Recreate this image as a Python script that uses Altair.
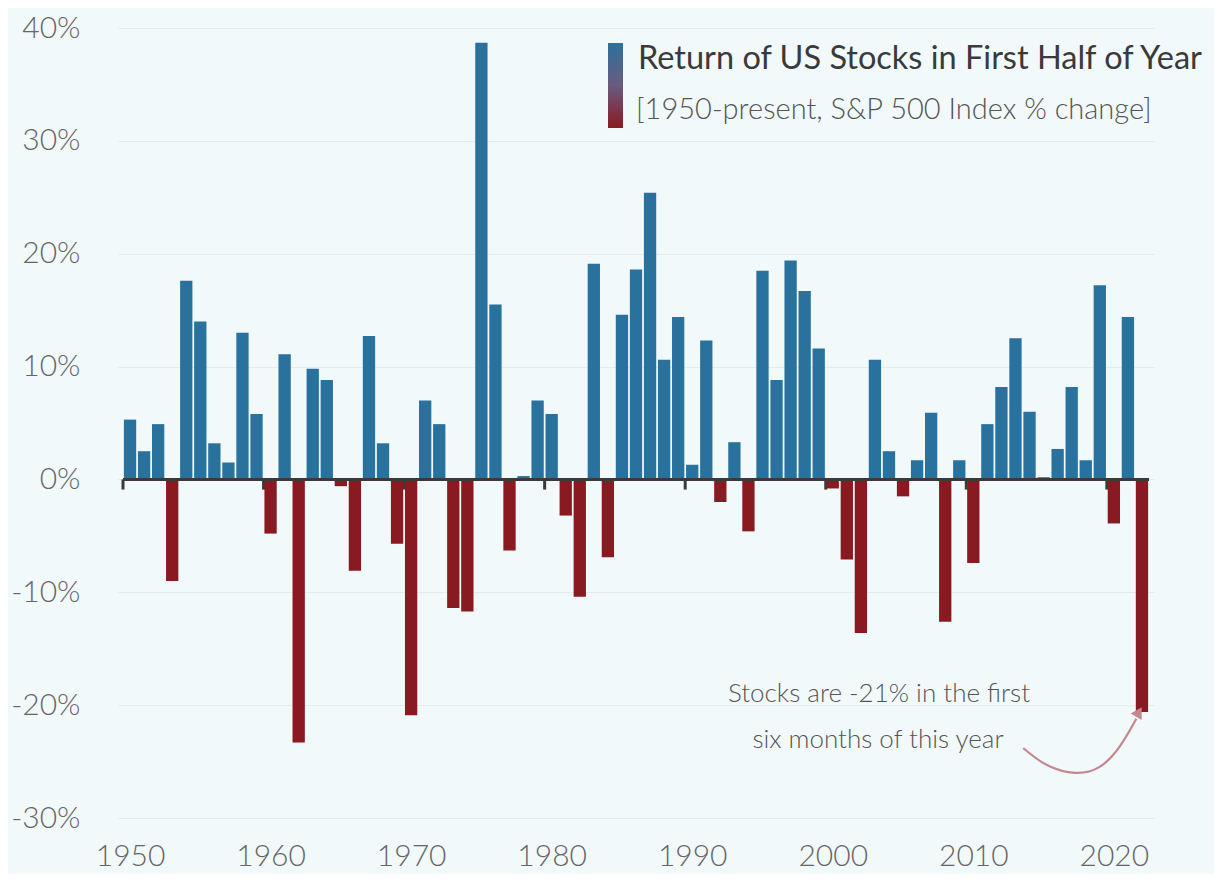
import altair as alt
import pandas as pd

years = list(range(1950, 2023))
returns = [
    5.3, 2.5, 4.9, -9.0, 17.6, 14.0, 3.2, 1.5, 13.0, 5.8,
    -4.8, 11.1, -23.3, 9.8, 8.8, -0.6, -8.1, 12.7, 3.2, -5.7,
    -20.9, 7.0, 4.9, -11.4, -11.7, 38.7, 15.5, -6.3, 0.3, 7.0,
    5.8, -3.2, -10.4, 19.1, -6.9, 14.6, 18.6, 25.4, 10.6, 14.4,
    1.3, 12.3, -2.0, 3.3, -4.6, 18.5, 8.8, 19.4, 16.7, 11.6,
    -0.8, -7.1, -13.6, 10.6, 2.5, -1.5, 1.7, 5.9, -12.6, 1.7,
    -7.4, 4.9, 8.2, 12.5, 6.0, 0.2, 2.7, 8.2, 1.7, 17.2,
    -3.9, 14.4, -20.6,
]
decades = [1950, 1960, 1970, 1980, 1990, 2000, 2010, 2020]
y_ticks = [-30, -20, -10, 0, 10, 20, 30, 40]

# annotation arrow path (year, value)
arrow_x = [2013.55, 2015.2, 2017.3, 2019.05, 2020.45, 2021.6]
arrow_y = [-23.8, -25.5, -26.2, -25.7, -23.8, -21.2]
arrow_tip_x = [2021.72]
arrow_tip_y = [-20.75]

title_text = "Return of US Stocks in First Half of Year"
subtitle_text = "[1950-present, S&P 500 Index % change]"
note_lines = ["Stocks are -21% in the first", "six months of this year"]

BLUE = "#2a729e"
RED = "#8a1a21"
BG = "#f1f9fb"
FONT = "Lato"

df = pd.DataFrame({"year": years, "ret": returns})
df["sign"] = ["pos" if v >= 0 else "neg" for v in returns]
tick_df = pd.DataFrame({"pos": [d - 0.5 for d in decades], "y0": 0.0, "y1": -0.9})
zero_df = pd.DataFrame({"x0": [1949.5], "x1": [2022.5], "y": [0]})
arrow_df = pd.DataFrame({"x": arrow_x, "y": arrow_y, "o": list(range(len(arrow_x)))})
tip_df = pd.DataFrame({"x": arrow_tip_x, "y": arrow_tip_y})

xscale = alt.Scale(domain=[1949.5, 2022.5], nice=False, zero=False)
yscale = alt.Scale(domain=[-30, 40], nice=False)

x_axis = alt.Axis(values=decades, format="d", title=None, grid=False, domain=False,
                  ticks=False, labelFont=FONT, labelFontSize=30, labelFontWeight=300,
                  labelColor="#666666", labelPadding=23)
y_axis = alt.Axis(values=y_ticks, title=None, grid=True, gridColor="#e3ecef",
                  gridWidth=1.2, domain=False, ticks=False, labelFont=FONT,
                  labelFontSize=30, labelFontWeight=300, labelColor="#666666",
                  labelPadding=38, labelExpr="datum.value + '%'")

base = alt.Chart(df)

bars = base.mark_bar(width=12.3).encode(
    x=alt.X("year:Q", scale=xscale, axis=x_axis),
    y=alt.Y("ret:Q", scale=yscale, axis=y_axis),
    y2=alt.datum(0),
    color=alt.Color("sign:N", scale=alt.Scale(domain=["pos", "neg"], range=[BLUE, RED]),
                    legend=None),
)

ticks = alt.Chart(tick_df).mark_rule(color="#3a3a3a", strokeWidth=3).encode(
    x=alt.X("pos:Q", scale=xscale), y=alt.Y("y0:Q", scale=yscale), y2="y1:Q"
)

zero_line = alt.Chart(zero_df).mark_rule(color="#3a3a3a", strokeWidth=3).encode(
    x=alt.X("x0:Q", scale=xscale), x2="x1:Q", y=alt.Y("y:Q", scale=yscale)
)

legend_bar = alt.Chart(zero_df).mark_rect(
    color=alt.LinearGradient(gradient="linear",
                             stops=[alt.GradientStop(offset=0, color=BLUE),
                                    alt.GradientStop(offset=0.5, color="#6a5a80"),
                                    alt.GradientStop(offset=1, color=RED)],
                             x1=0, x2=0, y1=0, y2=1)
).encode(x=alt.value(490), x2=alt.value(505), y=alt.value(15), y2=alt.value(100))

title_mark = alt.Chart(zero_df).mark_text(
    text=title_text, font=FONT, fontSize=32.5, color="#3a3a3a", align="left", baseline="alphabetic"
).encode(x=alt.value(520), y=alt.value(41))

subtitle_mark = alt.Chart(zero_df).mark_text(
    text=subtitle_text, font=FONT, fontSize=29, fontWeight=300, color="#555555",
    align="left", baseline="alphabetic"
).encode(x=alt.value(518), y=alt.value(91))

note1 = alt.Chart(zero_df).mark_text(
    text=note_lines[0], font=FONT, fontSize=26, fontWeight=300, color="#555555", align="center",
    baseline="alphabetic"
).encode(x=alt.value(761), y=alt.value(674))
note2 = alt.Chart(zero_df).mark_text(
    text=note_lines[1], font=FONT, fontSize=26, fontWeight=300, color="#555555", align="center",
    baseline="alphabetic"
).encode(x=alt.value(760), y=alt.value(720))

arrow = alt.Chart(arrow_df).mark_line(color="#c4878d", strokeWidth=2.2, interpolate="basis").encode(
    x=alt.X("x:Q", scale=xscale), y=alt.Y("y:Q", scale=yscale), order="o:Q"
)
tip = alt.Chart(tip_df).mark_point(shape="triangle", filled=True, color="#c4878d",
                                   size=160, angle=30, opacity=1).encode(
    x=alt.X("x:Q", scale=xscale), y=alt.Y("y:Q", scale=yscale)
)

chart = alt.layer(
    ticks, bars, zero_line, legend_bar, title_mark, subtitle_mark, note1, note2, arrow, tip
).properties(
    width=1036, height=790,
    autosize=alt.AutoSizeParams(type="none"),
    padding={"left": 110, "top": 20, "right": 60, "bottom": 56},
    background=BG,
).configure_view(stroke=None)

chart.save("out.html", embed_options={"renderer": "svg", "actions": False})
